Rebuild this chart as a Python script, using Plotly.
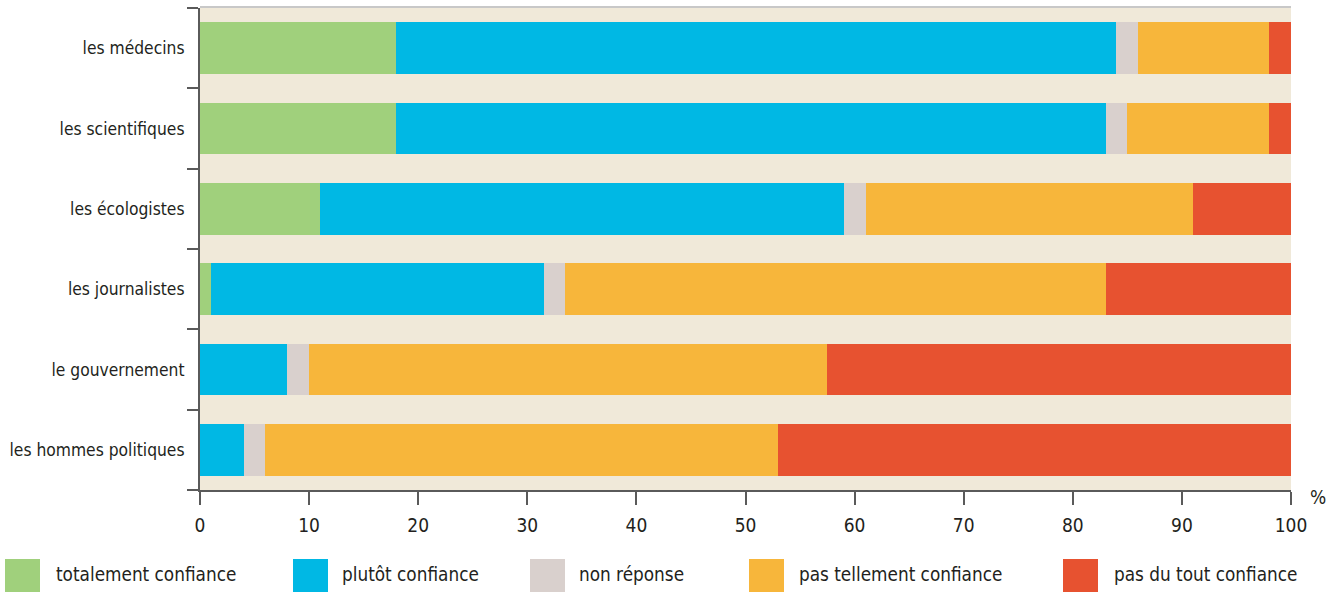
import plotly.graph_objects as go

# Survey: level of trust in each group (%)
categories = ["les médecins", "les scientifiques", "les écologistes",
              "les journalistes", "le gouvernement", "les hommes politiques"]

series_names = ["totalement confiance", "plutôt confiance", "non réponse",
                "pas tellement confiance", "pas du tout confiance"]

totalement = [18, 18, 11, 1, 0, 0]
plutot = [66, 65, 48, 30.5, 8, 4]
non_reponse = [2, 2, 2, 2, 2, 2]
pas_tellement = [12, 13, 30, 49.5, 47.5, 47]
pas_du_tout = [2, 2, 9, 17, 42.5, 47]

x_ticks = [0, 10, 20, 30, 40, 50, 60, 70, 80, 90, 100]

colors = ["#a0d07c", "#00b8e4", "#d9d0cd", "#f7b63b", "#e75230"]
values = [totalement, plutot, non_reponse, pas_tellement, pas_du_tout]

FONT = "DejaVu Sans Condensed, sans-serif"
TEXT = "#231f20"
AXIS = "#5a5a5a"

fig = go.Figure()
for name, vals, col in zip(series_names, values, colors):
    fig.add_trace(go.Bar(
        y=categories, x=vals, name=name, orientation="h",
        marker=dict(color=col, line=dict(width=0)),
        width=0.647, showlegend=False,
    ))

# Hand-placed legend row under the axis (pixel positions)
leg_sq_x = [5, 293, 530, 749, 1063]
leg_txt_x = [54, 340, 577, 797, 1112]
plot_l, plot_r, plot_t, plot_b = 200, 1291, 8, 490
pw, ph = plot_r - plot_l, plot_b - plot_t


def px_x(p):
    return (p - plot_l) / pw


def px_y(p):
    return (plot_b - p) / ph


shapes = []
annotations = []
for name, col, sx, tx in zip(series_names, colors, leg_sq_x, leg_txt_x):
    shapes.append(dict(type="rect", xref="paper", yref="paper",
                       x0=px_x(sx), x1=px_x(sx + 35), y0=px_y(593), y1=px_y(559),
                       fillcolor=col, line=dict(width=0), layer="above"))
    annotations.append(dict(text=name, xref="paper", yref="paper",
                            x=px_x(tx), y=px_y(574), xanchor="left", yanchor="middle",
                            showarrow=False, font=dict(family=FONT, size=18.8, color=TEXT)))

# thin top border of the plot area
shapes.append(dict(type="line", xref="paper", yref="paper", x0=0, x1=1, y0=1.002, y1=1.002,
                   line=dict(color="#c8c8c8", width=2)))

annotations.append(dict(text="%", xref="paper", yref="paper", x=px_x(1318), y=px_y(497),
                        xanchor="center", yanchor="middle", showarrow=False,
                        font=dict(family=FONT, size=19, color=TEXT)))

fig.update_layout(
    barmode="stack",
    width=1336, height=592,
    margin=dict(l=plot_l, r=1336 - plot_r, t=plot_t, b=592 - plot_b, pad=0),
    paper_bgcolor="white",
    plot_bgcolor="#f0e9d9",
    bargap=0,
    font=dict(family=FONT, size=18, color=TEXT),
    shapes=shapes,
    annotations=annotations,
    xaxis=dict(range=[0, 100], tickvals=x_ticks, ticktext=[str(v) for v in x_ticks],
               showgrid=False, zeroline=False, showline=True, linecolor=AXIS, linewidth=2,
               ticks="outside", ticklen=13, tickwidth=2, tickcolor=AXIS,
               ticklabelstandoff=4, automargin=False,
               tickfont=dict(family=FONT, size=19, color=TEXT), fixedrange=True),
    yaxis=dict(type="category", categoryorder="array", categoryarray=categories[::-1],
               showgrid=False, zeroline=False, showline=True, linecolor=AXIS, linewidth=2,
               ticks="outside", ticklen=11, tickwidth=2, tickcolor=AXIS, tickson="boundaries",
               ticklabelstandoff=10, automargin=False,
               tickfont=dict(family=FONT, size=17.3, color=TEXT), fixedrange=True),
)

fig.write_html("out.html")
